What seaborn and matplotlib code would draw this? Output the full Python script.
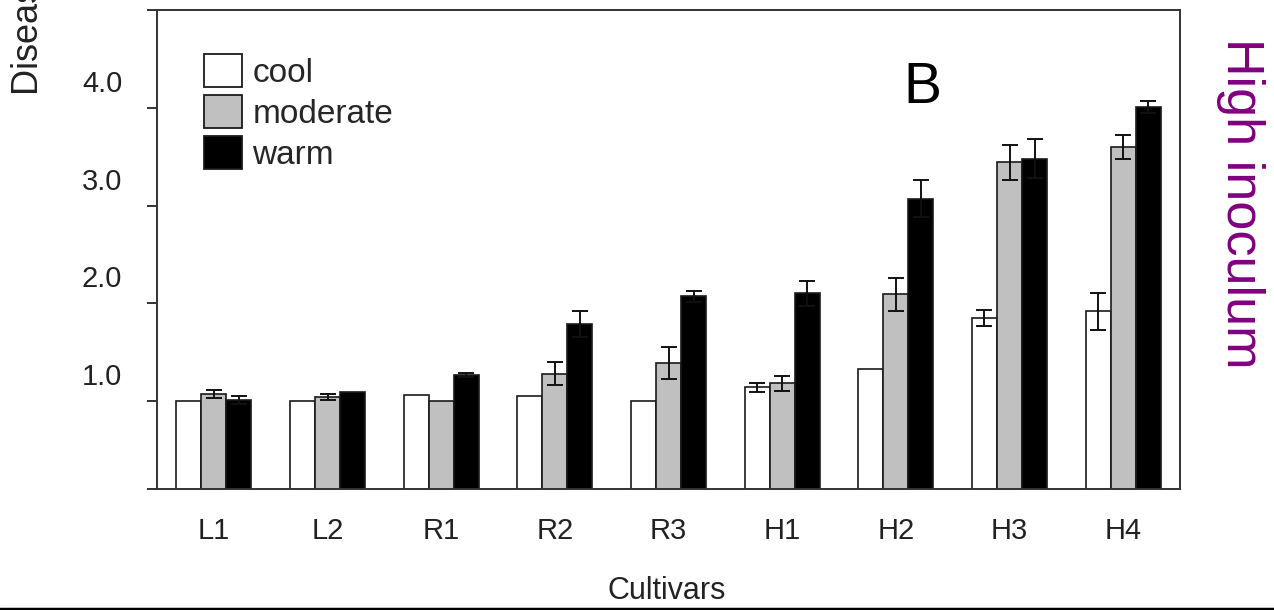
import numpy as np
import pandas as pd
import matplotlib
matplotlib.use("Agg")
import matplotlib.pyplot as plt
from matplotlib.patches import Patch
from matplotlib.transforms import ScaledTranslation
from matplotlib.lines import Line2D
import seaborn as sns

cultivars = ["L1", "L2", "R1", "R2", "R3", "H1", "H2", "H3", "H4"]
temps = ["cool", "moderate", "warm"]
cool = [1.00, 1.00, 1.06, 1.05, 1.00, 1.14, 1.33, 1.85, 1.92]
moderate = [1.07, 1.04, 1.00, 1.28, 1.39, 1.18, 2.09, 3.44, 3.60]
warm = [1.01, 1.09, 1.27, 1.79, 2.07, 2.10, 3.07, 3.48, 4.01]
cool_err = [0.00, 0.00, 0.00, 0.00, 0.00, 0.045, 0.00, 0.08, 0.19]
moderate_err = [0.04, 0.03, 0.00, 0.12, 0.16, 0.08, 0.17, 0.18, 0.12]
warm_err = [0.04, 0.00, 0.02, 0.13, 0.06, 0.13, 0.19, 0.20, 0.06]
ytick_vals = [0.1, 1.0, 2.0, 3.0, 4.0, 5.0]
ytick_labels = ["", "1.0", "2.0", "3.0", "4.0", ""]
colors = {"cool": "#ffffff", "moderate": "#c0c0c0", "warm": "#000000"}

df = pd.DataFrame({
    "cultivar": cultivars * 3,
    "temp": sum([[t] * len(cultivars) for t in temps], []),
    "value": cool + moderate + warm,
})
errs = {"cool": cool_err, "moderate": moderate_err, "warm": warm_err}
vals = {"cool": cool, "moderate": moderate, "warm": warm}

sns.set_style("white")
plt.rcParams["font.family"] = ["Liberation Sans", "DejaVu Sans"]

W, H = 1274, 610
fig = plt.figure(figsize=(W / 100, H / 100), dpi=100)
ax = fig.add_axes([157 / W, 1 - 489 / H, (1180 - 157) / W, (489 - 10) / H])

sns.barplot(data=df, x="cultivar", y="value", hue="temp", order=cultivars,
            hue_order=temps, palette=colors, width=0.66, gap=0,
            edgecolor="#1a1a1a", linewidth=1.2, errorbar=None, legend=False,
            saturation=1, ax=ax)

# error bars at bar centres
patches = list(ax.patches)
n = len(cultivars)
for i, t in enumerate(temps):
    for j in range(n):
        p = patches[i * n + j]
        e = errs[t][j]
        if e <= 0:
            continue
        xc = p.get_x() + p.get_width() / 2
        ax.errorbar(xc, vals[t][j], yerr=e, fmt="none", ecolor="#111111",
                    elinewidth=1.4, capsize=5.8, capthick=1.4, zorder=5)

ax.set_xlim(-0.5, 8.5)
ax.set_ylim(0.1, 5.0)
ax.set_yticks(ytick_vals)
ax.set_yticklabels(ytick_labels)
ax.set_xlabel("")
ax.set_ylabel("")
for s in ax.spines.values():
    s.set_visible(True)
    s.set_color("#333333")
    s.set_linewidth(1.4)
ax.tick_params(axis="y", direction="out", length=7, width=1.4, color="#333333",
               pad=18, labelsize=21, labelcolor="#222222", left=True)
ax.tick_params(axis="x", length=0, pad=20, labelsize=21, labelcolor="#222222")
off = ScaledTranslation(0, 27 / 100, fig.dpi_scale_trans)
for lab in ax.get_yticklabels():
    lab.set_transform(lab.get_transform() + off)

handles = [Patch(facecolor=colors[t], edgecolor="#1a1a1a", linewidth=1.3, label=t)
           for t in temps]
leg = ax.legend(handles=handles, loc="upper left",
                bbox_to_anchor=((204 - 157) / 1023, 1 - (54 - 10) / 479),
                frameon=False, fontsize=24, handlelength=1.15, handleheight=1.15,
                labelspacing=0.18, handletextpad=0.3, borderpad=0, borderaxespad=0)

ax.text((922 - 157) / 1023, 1 - (88 - 10) / 479, "B", transform=ax.transAxes,
        fontsize=41, ha="center", va="center", color="black")

fig.text(667 / W, 1 - 591 / H, "Cultivars", fontsize=22, ha="center", va="center",
         color="#222222")
fig.text(28 / W, 1 - 95 / H, "Disease severity", fontsize=26, rotation=90,
         ha="center", va="bottom", color="#222222")
fig.text(1240 / W, 1 - 203 / H, "High inoculum", fontsize=37.5, rotation=270,
         ha="center", va="center", color="#800080")

fig.add_artist(Line2D([0, 1], [1.5 / H, 1.5 / H], transform=fig.transFigure,
                      color="black", linewidth=2.5))

fig.savefig("out.png", dpi=100)
